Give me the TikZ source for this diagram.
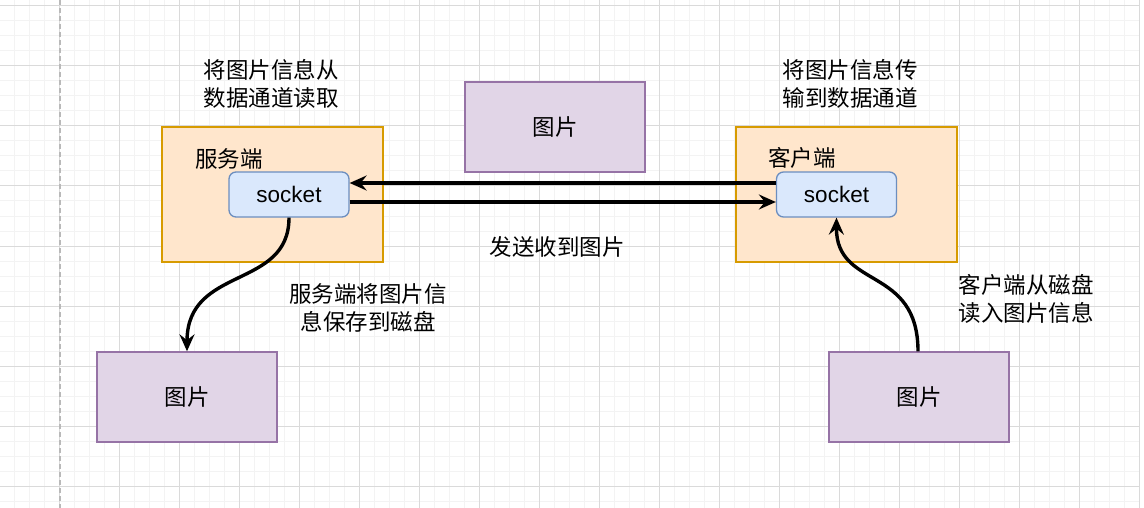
\documentclass[tikz,border=0pt]{standalone}
\usepackage{fontspec}
\setmainfont{Liberation Sans}
\newfontfamily\cjk{Noto Sans CJK SC}
\usetikzlibrary{arrows.meta}
\definecolor{orfill}{HTML}{FFE6CC}
\definecolor{ordraw}{HTML}{D79B00}
\definecolor{blfill}{HTML}{DAE8FC}
\definecolor{bldraw}{HTML}{6C8EBF}
\definecolor{pufill}{HTML}{E1D5E7}
\definecolor{pudraw}{HTML}{9673A6}
\definecolor{gridminor}{HTML}{F3F3F3}
\definecolor{gridmajor}{HTML}{DADADA}
\tikzset{
  orbox/.style={draw=ordraw, fill=orfill, line width=1.4pt, minimum width=221pt, minimum height=135pt, inner sep=0pt},
  sockbox/.style={draw=bldraw, fill=blfill, line width=1.3pt, rounded corners=7pt, minimum width=120pt, minimum height=45pt, inner sep=0pt, font=\fontsize{22.5}{26}\selectfont},
  picbox/.style={draw=pudraw, fill=pufill, line width=1.4pt, minimum width=180pt, minimum height=90pt, inner sep=0pt, font=\cjk\fontsize{22.5}{26}\selectfont},
  lbl/.style={align=center, inner sep=0pt, font=\cjk\fontsize{22.5}{28}\selectfont},
  conn/.style={line width=3.4pt, -{Stealth[length=17pt,width=15pt,inset=6pt]}}
}
\begin{document}
\begin{tikzpicture}[x=1pt,y=-1pt]
\useasboundingbox (0,0) rectangle (1144,508);
\fill[white] (0,0) rectangle (1144,508);
% grid
\foreach \i in {0,...,75} {\draw[gridminor, line width=1pt] ({14.5+15*\i},0) -- ({14.5+15*\i},508);}
\foreach \j in {0,...,33} {\draw[gridminor, line width=1pt] (0,{6+15*\j}) -- (1139,{6+15*\j});}
\foreach \i in {0,...,18} {\draw[gridmajor, line width=1pt] ({59.5+60*\i},0) -- ({59.5+60*\i},508);}
\foreach \j in {0,...,8} {\draw[gridmajor, line width=1pt] (0,{6+60*\j}) -- (1139,{6+60*\j});}
\fill[white] (1139.5,0) rectangle (1144,508);
\draw[gray!55, line width=1.3pt, dash pattern=on 5pt off 3pt] (60,0) -- (60,508);

% containers
\node[orbox] (srv) at (272.5,194.5) {};
\node[orbox] (cli) at (846.5,194.5) {};
\node[lbl, anchor=center] (srvlbl) at (229,159) {服务端};
\node[lbl, anchor=center] (clilbl) at (802,158) {客户端};
\node[sockbox] (ssock) at (289,194.5) {socket};
\node[sockbox] (csock) at (836.5,194.5) {socket};

% pictures
\node[picbox] (pmid) at (555,127) {图片};
\node[picbox] (pleft) at (187,397) {图片};
\node[picbox] (pright) at (919,397) {图片};

% labels
\node[lbl] (t1) at (271,84) {将图片信息从\\数据通道读取};
\node[lbl] (t2) at (850,84) {将图片信息传\\输到数据通道};
\node[lbl] (t3) at (557,247) {发送收到图片};
\node[lbl] (t4) at (368,308) {服务端将图片信\\息保存到磁盘};
\node[lbl] (t5) at (1026,299) {客户端从磁盘\\读入图片信息};

% connectors
\draw[conn] (csock.west |- 0,183) -- (ssock.east |- 0,183);
\draw[conn] (ssock.east |- 0,202) -- (csock.west |- 0,202);
\draw[conn] (ssock.south) .. controls (289,290) and (187,265) .. (pleft.north);
\draw[conn] (pright.north -| 918,0) .. controls (918,265) and (836,290) .. (csock.south);
\end{tikzpicture}
\end{document}
